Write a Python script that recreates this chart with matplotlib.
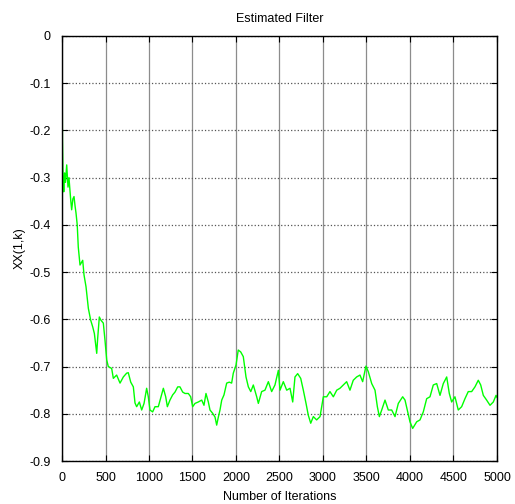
import numpy as np
import matplotlib.pyplot as plt

# valores (iteracion, XX(1,k))
iteraciones = [0, 1, 5, 12, 20, 30, 40, 54, 62, 69, 80, 92, 100, 111, 125, 138, 150,
               161, 175, 187, 207, 238, 253, 276, 303, 330, 353, 372, 399, 410, 429,
               448, 475, 494, 514, 532, 571, 590, 628, 667, 705, 743, 762, 790, 820,
               839, 858, 889, 916, 943, 973, 992, 1011, 1042, 1069, 1107, 1134, 1165,
               1192, 1211, 1241, 1272, 1299, 1330, 1356, 1387, 1414, 1452, 1479, 1502,
               1529, 1567, 1606, 1632, 1655, 1682, 1701, 1732, 1759, 1778, 1797, 1816,
               1836, 1862, 1893, 1923, 1950, 1969, 2000, 2026, 2054, 2084, 2115, 2142,
               2170, 2199, 2238, 2257, 2295, 2333, 2372, 2410, 2448, 2487, 2506, 2544,
               2583, 2621, 2652, 2678, 2709, 2744, 2774, 2805, 2831, 2859, 2889, 2927,
               2966, 3004, 3043, 3080, 3119, 3158, 3195, 3233, 3272, 3310, 3348, 3387,
               3425, 3456, 3494, 3521, 3560, 3598, 3625, 3648, 3675, 3713, 3751, 3790,
               3828, 3866, 3916, 3943, 3969, 4000, 4031, 4077, 4115, 4153, 4192, 4230,
               4268, 4307, 4345, 4383, 4422, 4452, 4479, 4517, 4555, 4594, 4632, 4670,
               4709, 4747, 4785, 4813, 4843, 4881, 4920, 4958, 4989, 5000]
xx1k = [0.0, -0.05, -0.22, -0.30, -0.33, -0.29, -0.31, -0.273, -0.30, -0.32, -0.30, -0.33,
        -0.347, -0.368, -0.345, -0.34, -0.36, -0.375, -0.40, -0.447, -0.485, -0.475,
        -0.506, -0.531, -0.577, -0.602, -0.616, -0.630, -0.672, -0.64, -0.595, -0.602,
        -0.608, -0.644, -0.686, -0.70, -0.704, -0.725, -0.718, -0.735, -0.722, -0.714,
        -0.713, -0.733, -0.743, -0.777, -0.785, -0.775, -0.792, -0.778, -0.746, -0.764,
        -0.792, -0.796, -0.785, -0.785, -0.767, -0.746, -0.764, -0.785, -0.771, -0.76,
        -0.754, -0.743, -0.743, -0.754, -0.757, -0.757, -0.764, -0.785, -0.778, -0.775,
        -0.771, -0.782, -0.757, -0.775, -0.792, -0.799, -0.807, -0.824, -0.807, -0.792,
        -0.771, -0.76, -0.735, -0.733, -0.735, -0.714, -0.697, -0.665, -0.669, -0.679,
        -0.722, -0.743, -0.753, -0.739, -0.764, -0.778, -0.753, -0.75, -0.732, -0.753,
        -0.739, -0.708, -0.75, -0.732, -0.75, -0.746, -0.775, -0.722, -0.715, -0.725,
        -0.75, -0.778, -0.803, -0.82, -0.806, -0.813, -0.806, -0.764, -0.764, -0.753,
        -0.764, -0.75, -0.746, -0.739, -0.732, -0.75, -0.729, -0.722, -0.718, -0.732,
        -0.699, -0.711, -0.736, -0.75, -0.785, -0.806, -0.792, -0.771, -0.792, -0.792,
        -0.806, -0.778, -0.764, -0.771, -0.792, -0.817, -0.831, -0.817, -0.813, -0.796,
        -0.768, -0.764, -0.739, -0.736, -0.761, -0.736, -0.722, -0.757, -0.775, -0.764,
        -0.792, -0.785, -0.768, -0.753, -0.753, -0.743, -0.729, -0.739, -0.761, -0.771,
        -0.782, -0.775, -0.761, -0.765]

plt.rcParams['font.family'] = ['Liberation Sans', 'DejaVu Sans']

fig = plt.figure(figsize=(5.15, 5.04), dpi=100)
ax = fig.add_axes([0.1204, 0.0853, 0.8446, 0.8433])

ax.plot(iteraciones, xx1k, color='#00ff00', linewidth=1.0)

ax.set_xlim(0, 5000)
ax.set_ylim(-0.9, 0)
ax.set_xticks(np.arange(0, 5001, 500))
ax.set_yticks(np.arange(-0.9, 0.001, 0.1))
ax.set_yticklabels(['-0.9', '-0.8', '-0.7', '-0.6', '-0.5', '-0.4', '-0.3', '-0.2', '-0.1', '0'])

ax.grid(axis='x', color='#8c8c8c', linestyle='-', linewidth=0.9)
ax.grid(axis='y', color='#555555', linestyle=':', linewidth=0.9)
ax.tick_params(direction='in', top=True, right=True, labelsize=9, length=4)
ax.tick_params(axis='x', pad=8)
ax.tick_params(axis='y', pad=8)
for s in ax.spines.values():
    s.set_linewidth(1.0)

ax.set_title('Estimated Filter', fontsize=9, pad=10)
ax.set_xlabel('Number of Iterations', fontsize=9, labelpad=5)
ax.set_ylabel('XX(1,k)', fontsize=9, labelpad=3)

fig.savefig('out.png', dpi=100)
